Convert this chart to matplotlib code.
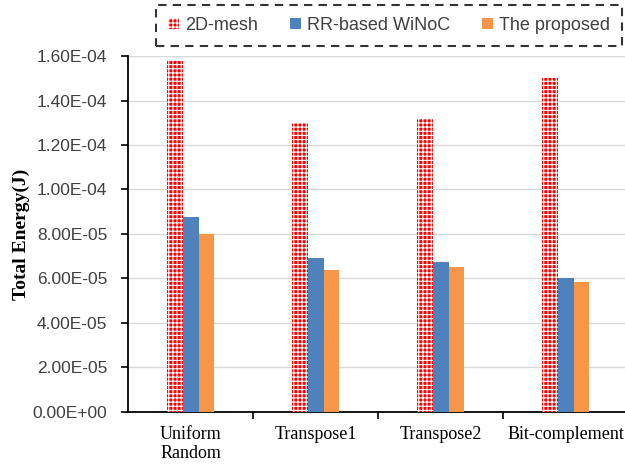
import matplotlib
matplotlib.use("Agg")
import matplotlib.pyplot as plt
import numpy as np
from matplotlib.ticker import FuncFormatter

# Total energy per traffic pattern
patterns = ["Uniform\nRandom", "Transpose1", "Transpose2", "Bit-complement"]
mesh_2d = [1.58e-4, 1.30e-4, 1.317e-4, 1.50e-4]
rr_winoc = [8.78e-5, 6.9e-5, 6.72e-5, 6.03e-5]
proposed = [8.02e-5, 6.36e-5, 6.52e-5, 5.82e-5]
series_names = ["2D-mesh", "RR-based WiNoC", "The proposed"]
yticks = np.arange(0, 1.61e-4, 2e-5)

plt.rcParams["hatch.linewidth"] = 0.8

fig = plt.figure(figsize=(6.25, 4.67), dpi=100)
ax = fig.add_axes([0.205, 0.118, 0.80, 0.762])

x = np.arange(len(patterns))
w = 0.126
b1 = ax.bar(x - w, mesh_2d, w, color="#ff0000", edgecolor="white", hatch="++++",
            linewidth=0, label=series_names[0], zorder=3)
b2 = ax.bar(x, rr_winoc, w, color="#4f81bd", label=series_names[1], zorder=3)
b3 = ax.bar(x + w, proposed, w, color="#f79646", label=series_names[2], zorder=3)

ax.set_xlim(-0.5, len(patterns) - 0.5)
ax.set_ylim(0, 1.6e-4)
ax.set_yticks(yticks)
ax.yaxis.set_major_formatter(FuncFormatter(lambda v, p: f"{v:.2E}"))
ax.grid(axis="y", color="#d9d9d9", linewidth=1, zorder=0)

# category separators on x axis
ax.set_xticks(np.arange(0.5, len(patterns) - 0.5, 1.0))
ax.set_xticklabels([])
ax.tick_params(axis="x", length=5, width=1.2, color="black")
ax.set_xticks(x, minor=True)
ax.set_xticklabels(patterns, minor=True, fontfamily="Liberation Serif", fontsize=13,
                   linespacing=1.2)
ax.tick_params(axis="x", which="minor", length=0, pad=10)

ax.tick_params(axis="y", length=5, width=1.2, labelsize=12.5, pad=10)
for lbl in ax.get_yticklabels():
    lbl.set_fontfamily("Liberation Sans")
    lbl.set_color("#404040")

for side in ["top", "right"]:
    ax.spines[side].set_visible(False)
ax.spines["left"].set_linewidth(1.3)
ax.spines["bottom"].set_linewidth(1.3)

ax.set_ylabel("Total Energy(J)", fontfamily="Liberation Serif", fontweight="bold",
              fontsize=14, labelpad=2)

leg = fig.legend(handles=[b1, b2, b3], loc="upper left",
                 bbox_to_anchor=(0.25, 0.899, 0.745, 0.09), mode="expand",
                 ncol=3, frameon=True, fancybox=False, handlelength=0.6, handleheight=0.6,
                 handletextpad=0.35, borderpad=0.65, borderaxespad=0,
                 prop={"family": "Liberation Sans", "size": 13})
frame = leg.get_frame()
frame.set_edgecolor("black")
frame.set_linestyle((0, (4, 3)))
frame.set_linewidth(1.5)
for t in leg.get_texts():
    t.set_color("#404040")

fig.savefig("out.png", dpi=100)
